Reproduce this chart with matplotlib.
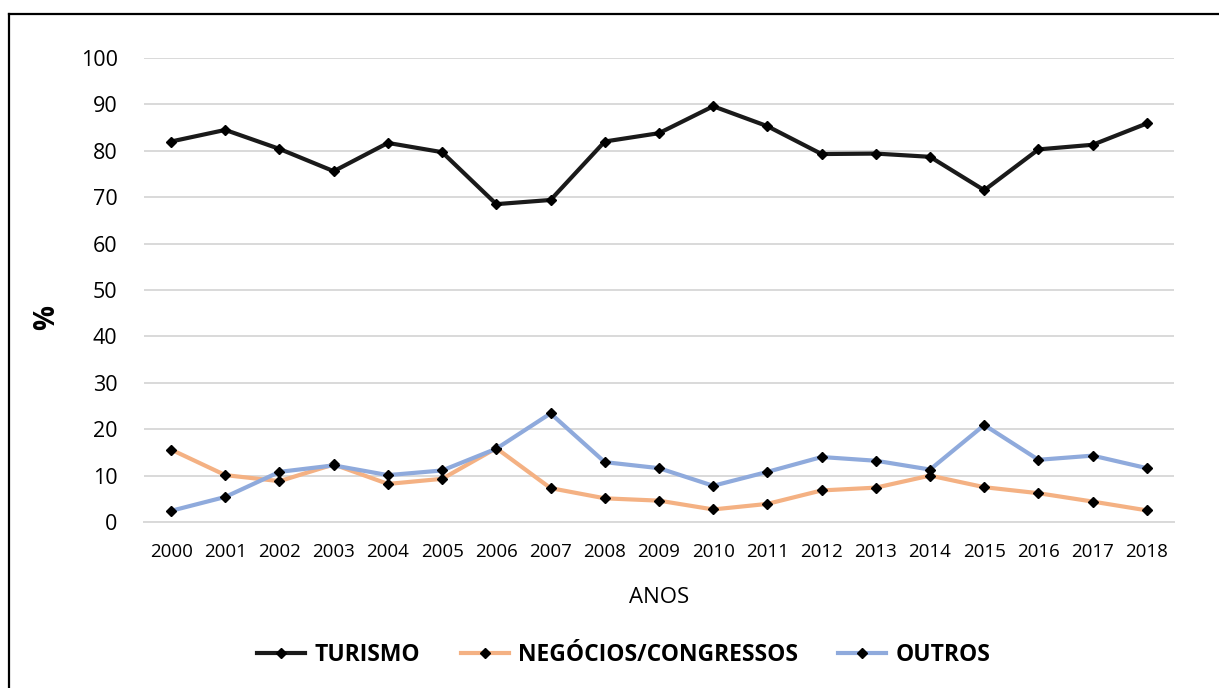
import matplotlib.pyplot as plt
from matplotlib.lines import Line2D

anos = [str(a) for a in range(2000, 2019)]

turismo = [82.0, 84.5, 80.4, 75.6, 81.7, 79.7, 68.5, 69.4, 82.0, 83.8,
           89.6, 85.3, 79.3, 79.4, 78.7, 71.5, 80.3, 81.3, 85.9]
negocios = [15.6, 10.1, 8.8, 12.4, 8.2, 9.3, 15.9, 7.3, 5.1, 4.6,
            2.7, 3.9, 6.8, 7.4, 10.0, 7.5, 6.2, 4.4, 2.5]
outros = [2.4, 5.4, 10.8, 12.2, 10.1, 11.1, 15.8, 23.4, 12.9, 11.6,
          7.8, 10.8, 14.0, 13.2, 11.3, 20.9, 13.4, 14.3, 11.6]

series = [("TURISMO", turismo, "#1a1a1a"),
          ("NEGÓCIOS/CONGRESSOS", negocios, "#F4B183"),
          ("OUTROS", outros, "#8FAADC")]

plt.rcParams['font.family'] = ['Open Sans', 'DejaVu Sans']

fig = plt.figure(figsize=(12.19, 6.88), dpi=100)
ax = fig.add_axes([0.1181, 0.2413, 0.8450, 0.6744])

x = list(range(len(anos)))
for nome, valores, cor in series:
    ax.plot(x, valores, color=cor, lw=3.0, marker='D', markersize=5.5,
            markerfacecolor='black', markeredgecolor='black', label=nome,
            solid_joinstyle='miter')

ax.set_xlim(-0.5, len(anos) - 0.5)
ax.set_ylim(0, 100)
ax.set_yticks(range(0, 101, 10))
ax.set_xticks(x)
ax.set_xticklabels(anos)
ax.yaxis.grid(True, color='#D9D9D9', lw=1.4)
ax.set_axisbelow(True)
for s in ['top', 'right', 'left']:
    ax.spines[s].set_visible(False)
ax.spines['bottom'].set_color('#D9D9D9')
ax.spines['bottom'].set_linewidth(1.4)
ax.tick_params(axis='y', length=0, pad=19, labelsize=15.5)
ax.tick_params(axis='x', length=0, pad=15, labelsize=13.5)

ax.set_xlabel("ANOS", fontsize=16, labelpad=19)
fig.text(47 / 1219, 1 - 318 / 688, "%", rotation=90, fontsize=20,
         fontweight='bold', ha='center', va='center')

leg = fig.legend(loc='center', bbox_to_anchor=(624 / 1219, 1 - 655 / 688),
                 ncol=3, frameon=False, handlelength=2.1, handletextpad=0.42,
                 columnspacing=1.75,
                 prop={'weight': 'bold', 'size': 16.5})

# moldura da figura
fig.add_artist(Line2D([8.5 / 1219, 8.5 / 1219], [0, 1 - 13.5 / 688],
                      transform=fig.transFigure, color='black', lw=1.6))
fig.add_artist(Line2D([8.5 / 1219, 1], [1 - 13.5 / 688, 1 - 13.5 / 688],
                      transform=fig.transFigure, color='black', lw=1.6))

fig.savefig("out.png", dpi=100)
